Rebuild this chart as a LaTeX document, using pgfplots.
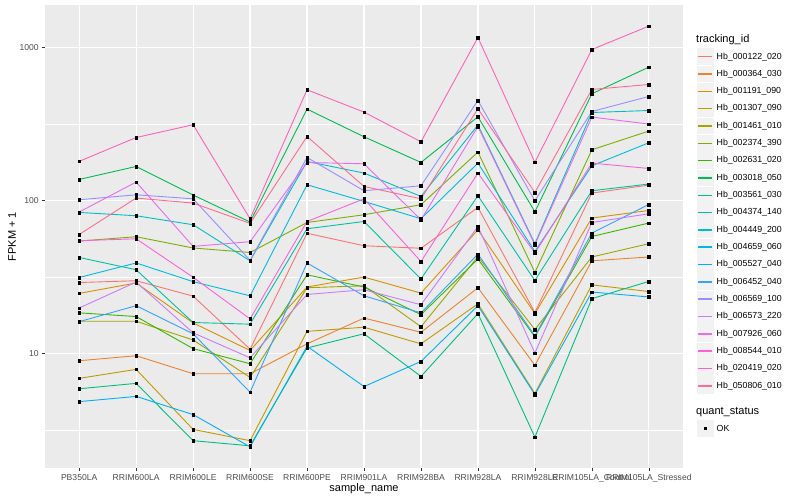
\documentclass[border=0pt]{standalone}
\usepackage{fontspec}
\setmainfont{Liberation Sans}
\usepackage{pgfplots}
\usepackage{pgfplotstable}
\pgfplotsset{compat=1.18}

\definecolor{panelbg}{HTML}{EBEBEB}
\definecolor{keybg}{HTML}{F2F2F2}
\definecolor{tickgrey}{HTML}{333333}
\definecolor{labelgrey}{HTML}{4D4D4D}

% ggplot hue palette, 20 levels
\definecolor{g122}{HTML}{F8766D}
\definecolor{g364}{HTML}{EA8331}
\definecolor{g1191}{HTML}{D89000}
\definecolor{g1307}{HTML}{C09B00}
\definecolor{g1461}{HTML}{A3A500}
\definecolor{g2374}{HTML}{7CAE00}
\definecolor{g2631}{HTML}{39B600}
\definecolor{g3018}{HTML}{00BB4E}
\definecolor{g3561}{HTML}{00BF7D}
\definecolor{g4374}{HTML}{00C1A3}
\definecolor{g4449}{HTML}{00BFC4}
\definecolor{g4659}{HTML}{00BAE0}
\definecolor{g5527}{HTML}{00B0F6}
\definecolor{g6452}{HTML}{35A2FF}
\definecolor{g6569}{HTML}{9590FF}
\definecolor{g6573}{HTML}{C77CFF}
\definecolor{g7926}{HTML}{E76BF3}
\definecolor{g8544}{HTML}{FA62DB}
\definecolor{g20419}{HTML}{FF62BC}
\definecolor{g50806}{HTML}{FF6C91}

% FPKM + 1, one row per sample (0 = PB350LA ... 10 = RRIM105LA_Stressed)
\pgfplotstableread{
x  g122  g364 g1191 g1307 g1461 g2374 g2631 g3018 g3561 g4374 g4449 g4659 g5527 g6452 g6569 g6573 g7926 g8544 g20419 g50806
0  29.2  9.0  24.8  6.9   16.3  54.5  18.5  137.8 5.9   42.6  83.9  31.5  4.86  16.2  101.5 19.9  84.4  54.8  181    60.2
1  30.0  9.7  29.0  7.9   16.3  58.2  17.5  167.6 6.4   35.4  79.8  39.2  5.26  20.6  109.4 29.4  132.5 56.4  259    104.1
2  23.8  7.4  15.9  3.2   12.3  49.1  10.8  109   2.7   16.0  69.7  29.6  4.0   13.5  103   13.7  50.3  31.6  314    96.6
3  10.7  7.4  10.5  2.7   7.0   45.9  8.6   72.6  2.5   15.6  40.5  23.9  2.46  5.6   40.8  9.4   54.0  16.9  76.3   71.1
4  61.3  11.6 27.3  14.0  27.0  72.1  32.8  397.5 10.9  65.6  180.7 127.2 11.2  39.2  191.9 24.4  178   73.2  531.5  263.2
5  50.8  17.1 31.7  14.9  27.8  81    27.3  262   13.5  73.2  151.7 99    6.1   23.9  116.3 26.2  174.5 103   379.8  124
6  48.9  13.8 24.9  11.6  15.0  94.2  18.0  178   7.1   30.8  106.7 76.3  8.9   18.5  125.3 20.9  75.1  40.1  243    103
7  90.4  27.0 64.6  21.2  43.1  208.1 41.6  354   18.3  107.8 312.5 176.3 20.6  44.8  452.4 67.9  305.9 151.7 1167.6 399.4
8  18.6  8.4  18.3  5.5   14.4  34.0  12.9  84.8  2.85  30.1  52.4  46.6  5.4   13.1  100   10.1  51.6  45.5  178.5  113.3
9  112.3 40.5 77.1  28.2  42.9  215.4 58.4  500.5 22.9  116.3 377.6 169.3 25.3  61.5  383.4 72.1  352.5 176.3 974.8  534
10 126.6 42.9 86.4  25.5  52.4  285.5 71.5  747.8 29.7  128.6 389.2 239.4 23.5  94.6  480.6 82.2  317.2 162.6 1386   575.6
}\fpkm

\begin{document}
\begin{tikzpicture}[x=1pt,y=1pt]
\path[use as bounding box] (-45,-32) rectangle (755,468);

\begin{axis}[
    at={(0,0)}, anchor=south west,
    scale only axis, width=638pt, height=463pt,
    ymode=log, ymin=1.79, ymax=1905,
    xmin=-0.6, xmax=10.6,
    xtick={0,...,10},
    xticklabels={PB350LA,RRIM600LA,RRIM600LE,RRIM600SE,RRIM600PE,RRIM901LA,RRIM928BA,RRIM928LA,RRIM928LE,RRIM105LA\_Control,RRIM105LA\_Stressed},
    ytick={10,100,1000}, yticklabels={10,100,1000},
    minor ytick={3.1623,31.623,316.23},
    axis background/.style={fill=panelbg},
    axis line style={draw=none},
    xmajorgrids, ymajorgrids, yminorgrids,
    major grid style={white, line width=1.2pt},
    minor grid style={white, line width=0.6pt},
    tick align=outside, tick pos=left,
    major tick length=2.75pt, minor tick length=0pt,
    tick style={tickgrey, line width=0.6pt},
    xticklabel style={font=\fontsize{8.6}{10}\selectfont, text=labelgrey},
    yticklabel style={font=\fontsize{8.6}{10}\selectfont, text=labelgrey},
    xlabel={sample\_name}, ylabel={FPKM + 1},
    every axis x label/.style={at={(axis description cs:0.5,0)}, anchor=center, yshift=-20.5pt, font=\fontsize{11}{13}\selectfont},
    every axis y label/.style={at={(axis description cs:-0.0517,0.5)}, rotate=90, anchor=center, font=\fontsize{11}{13}\selectfont},
]
\pgfplotsinvokeforeach{g122,g364,g1191,g1307,g1461,g2374,g2631,g3018,g3561,g4374,g4449,g4659,g5527,g6452,g6569,g6573,g7926,g8544,g20419,g50806}{
  \addplot[color=#1, line width=0.9pt] table[x=x, y=#1] {\fpkm};
}
\pgfplotsinvokeforeach{g122,g364,g1191,g1307,g1461,g2374,g2631,g3018,g3561,g4374,g4449,g4659,g5527,g6452,g6569,g6573,g7926,g8544,g20419,g50806}{
  \addplot[only marks, mark=square*, mark size=1.3pt, black] table[x=x, y=#1] {\fpkm};
}
\end{axis}

% legend: tracking_id
\node[anchor=west, inner sep=0pt, font=\fontsize{11}{13}\selectfont] at (651,428) {tracking\_id};
\foreach \id/\c [count=\i from 0] in {
  Hb\_000122\_020/g122, Hb\_000364\_030/g364, Hb\_001191\_090/g1191, Hb\_001307\_090/g1307,
  Hb\_001461\_010/g1461, Hb\_002374\_390/g2374, Hb\_002631\_020/g2631, Hb\_003018\_050/g3018,
  Hb\_003561\_030/g3561, Hb\_004374\_140/g4374, Hb\_004449\_200/g4449, Hb\_004659\_060/g4659,
  Hb\_005527\_040/g5527, Hb\_006452\_040/g6452, Hb\_006569\_100/g6569, Hb\_006573\_220/g6573,
  Hb\_007926\_060/g7926, Hb\_008544\_010/g8544, Hb\_020419\_020/g20419, Hb\_050806\_010/g50806}{
  \pgfmathsetmacro\yy{468-56.7-17.32*\i}
  \fill[keybg] (651.6,\yy-8.4) rectangle (668.6,\yy+8.4);
  \draw[\c, line width=1.5pt] (653.2,\yy) -- (667.0,\yy);
  \node[anchor=west, inner sep=0pt, font=\fontsize{8.8}{10}\selectfont] at (671.5,\yy) {\id};
}

% legend: quant_status
\node[anchor=west, inner sep=0pt, font=\fontsize{11}{13}\selectfont] at (651,55.7) {quant\_status};
\fill[keybg] (651.6,31.3) rectangle (668.6,48.1);
\fill[black] (658.7,38.3) rectangle (661.5,41.1);
\node[anchor=west, inner sep=0pt, font=\fontsize{8.8}{10}\selectfont] at (671.5,39.7) {OK};
\end{tikzpicture}
\end{document}
